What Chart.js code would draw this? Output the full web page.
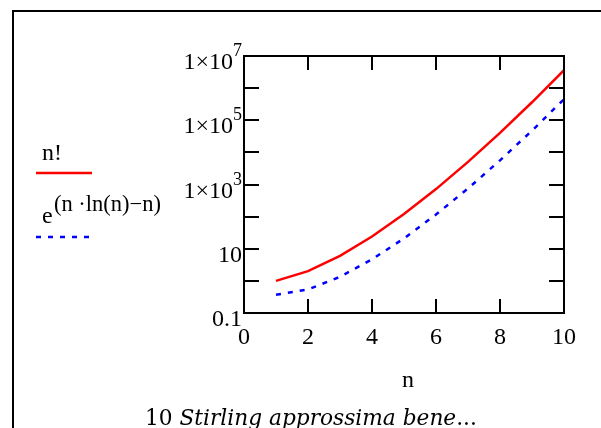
<!DOCTYPE html>
<html>
<head>
<meta charset="utf-8">
<script src="https://cdn.jsdelivr.net/npm/chart.js@4/dist/chart.umd.min.js"></script>
<style>
  html, body { margin: 0; padding: 0; background: #fff; }
  #wrap { width: 601px; height: 428px; position: relative; overflow: hidden; }
</style>
</head>
<body>
<div id="wrap"><canvas id="myChart" width="601" height="428"></canvas></div>
<script>
// n values on the x axis
const nValues = [1, 2, 3, 4, 5, 6, 7, 8, 9, 10];
// n! (red, solid)
const factorialValues = [1, 2, 6, 24, 120, 720, 5040, 40320, 362880, 3628800];
// e^(n ln(n) - n) (blue, dashed)
const stirlingValues = [0.37, 0.54, 1.34, 4.7, 21, 116, 753, 5630, 47500, 454000];

const xTickValues = [0, 2, 4, 6, 8, 10];
const xTickLabels = ['0', '2', '4', '6', '8', '10'];
const yTickValues = [0.1, 1, 10, 100, 1e3, 1e4, 1e5, 1e6, 1e7];
const yLabelValues = [0.1, 10, 1e3, 1e5, 1e7];
const yLabelBase = ['0.1', '10', '1\u00d710', '1\u00d710', '1\u00d710'];
const yLabelExp = ['', '', '3', '5', '7'];

const SERIF = '"Liberation Serif", "Times New Roman", serif';
const WIDE_SERIF = '"DejaVu Serif", serif';

const mathcadLook = {
  id: 'mathcadLook',
  beforeDraw(chart) {
    const ctx = chart.ctx;
    ctx.save();
    ctx.fillStyle = '#fff';
    ctx.fillRect(0, 0, chart.width, chart.height);
    // outer region frame
    ctx.strokeStyle = '#000';
    ctx.lineWidth = 2;
    ctx.beginPath();
    ctx.moveTo(13, chart.height + 5);
    ctx.lineTo(13, 11);
    ctx.lineTo(chart.width + 5, 11);
    ctx.stroke();
    ctx.restore();
  },
  afterDraw(chart) {
    const ctx = chart.ctx;
    const area = chart.chartArea;
    const xs = chart.scales.x, ys = chart.scales.y;
    ctx.save();
    ctx.strokeStyle = '#000';
    ctx.lineWidth = 2;
    ctx.strokeRect(area.left, area.top, area.right - area.left, area.bottom - area.top);

    // inside ticks
    ctx.beginPath();
    yTickValues.forEach(v => {
      const py = Math.round(ys.getPixelForValue(v));
      ctx.moveTo(area.left, py); ctx.lineTo(area.left + 15, py);
      ctx.moveTo(area.right - 15, py); ctx.lineTo(area.right, py);
    });
    xTickValues.forEach(v => {
      const px = Math.round(xs.getPixelForValue(v));
      ctx.moveTo(px, area.top); ctx.lineTo(px, area.top + 14);
      ctx.moveTo(px, area.bottom - 14); ctx.lineTo(px, area.bottom);
    });
    ctx.stroke();

    ctx.fillStyle = '#000';
    ctx.textBaseline = 'alphabetic';

    // x tick labels
    ctx.font = '24px ' + SERIF;
    ctx.textAlign = 'center';
    xTickValues.forEach((v, i) => {
      ctx.fillText(xTickLabels[i], xs.getPixelForValue(v), 344);
    });

    // y tick labels, right aligned, with superscript exponent
    const rightEdge = area.left - 2;
    yLabelValues.forEach((v, i) => {
      const py = ys.getPixelForValue(v);
      ctx.textAlign = 'right';
      let x = rightEdge;
      if (yLabelExp[i]) {
        ctx.font = '18px ' + SERIF;
        const w = ctx.measureText(yLabelExp[i]).width;
        ctx.fillText(yLabelExp[i], x, py);
        x -= w;
      }
      ctx.font = '24px ' + SERIF;
      ctx.fillText(yLabelBase[i], x, py + 13);
    });

    // axis title
    ctx.textAlign = 'center';
    ctx.font = '24px ' + SERIF;
    ctx.fillText('n', 408, 387);

    // legend
    ctx.textAlign = 'left';
    ctx.lineWidth = 2.5;
    ctx.fillText('n!', 42, 160);
    ctx.strokeStyle = '#ff0000';
    ctx.beginPath(); ctx.moveTo(36, 173); ctx.lineTo(92, 173); ctx.stroke();
    ctx.fillText('e', 42, 223);
    ctx.font = '22.5px ' + SERIF;
    ctx.fillText('(n \u00b7ln(n)\u2212n)', 54, 211);
    ctx.strokeStyle = '#0000ff';
    ctx.setLineDash([5, 7]);
    ctx.beginPath(); ctx.moveTo(36, 237); ctx.lineTo(92, 237); ctx.stroke();
    ctx.setLineDash([]);

    // caption
    ctx.font = '21.7px ' + WIDE_SERIF;
    let cx = 145;
    ctx.fillText('10 ', cx, 425);
    cx += ctx.measureText('10 ').width;
    ctx.font = 'italic 21.7px ' + WIDE_SERIF;
    ctx.fillText('Stirling approssima bene', cx, 425);
    cx += ctx.measureText('Stirling approssima bene').width;
    ctx.font = '21.7px ' + WIDE_SERIF;
    ctx.fillText('...', cx, 425);
    ctx.restore();
  }
};

const ctx = document.getElementById('myChart').getContext('2d');
const chart = new Chart(ctx, {
  type: 'line',
  data: {
    datasets: [{
      label: 'n!',
      data: nValues.map((n, i) => ({ x: n, y: factorialValues[i] })),
      borderColor: '#ff0000',
      borderWidth: 2.5,
      pointRadius: 0,
      tension: 0,
      fill: false
    }, {
      label: 'e^(n ln(n) - n)',
      data: nValues.map((n, i) => ({ x: n, y: stirlingValues[i] })),
      borderColor: '#0000ff',
      borderWidth: 2.5,
      borderDash: [5, 7],
      pointRadius: 0,
      tension: 0,
      fill: false
    }]
  },
  options: {
    responsive: false,
    animation: false,
    layout: { padding: { left: 244, right: 37, top: 56, bottom: 115 } },
    scales: {
      x: { type: 'linear', min: 0, max: 10, display: false },
      y: { type: 'logarithmic', min: 0.1, max: 1e7, display: false }
    },
    plugins: { legend: { display: false }, tooltip: { enabled: false } }
  },
  plugins: [mathcadLook]
});
</script>
</body>
</html>
